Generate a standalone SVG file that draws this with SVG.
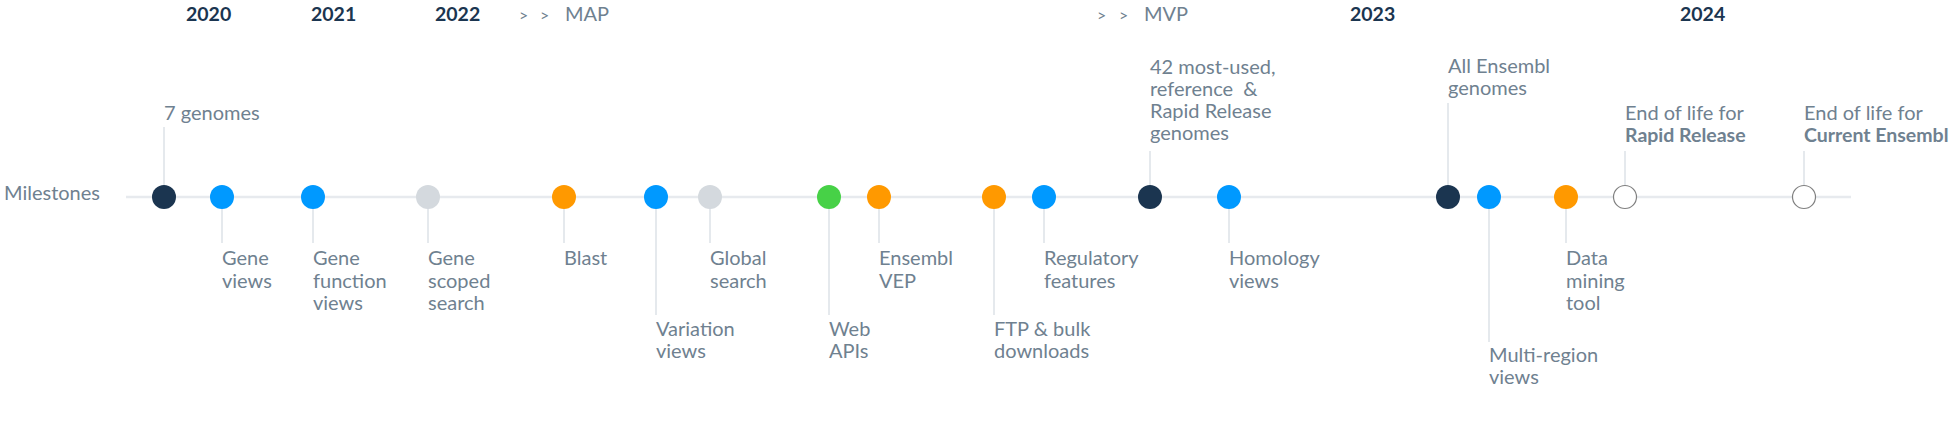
<svg xmlns="http://www.w3.org/2000/svg" width="1960" height="430" viewBox="0 0 1960 430">
<style>
  text { font-family: Lato, "Liberation Sans", sans-serif; }
  .yr { font-size: 19.5px; font-weight: 700; fill: #1b3550; }
  .ph { font-size: 20px; fill: #6f8190; }
  .lb { font-size: 20px; fill: #6f8190; white-space: pre; }
  .b { font-weight: 700; font-size: 19.5px; }
  .stem { stroke: #dde2e7; stroke-width: 1.5; fill: none; }
  .axis { stroke: #e7eaee; stroke-width: 2.5; }
  .navy { fill: #1b3550; }
  .blue { fill: #0099ff; }
  .grey { fill: #d4d9de; }
  .orange { fill: #ff9900; }
  .green { fill: #47d147; }
  .hollow { fill: #ffffff; stroke: #808080; stroke-width: 1.2; }
</style>
<rect width="1960" height="430" fill="#ffffff"/>

<g id="header">
  <text class="yr" x="186" y="20.5">2020</text>
  <text class="yr" x="311" y="20.5">2021</text>
  <text class="yr" x="435" y="20.5">2022</text>
  <text class="ph" x="519" y="20.5"><tspan font-size="16">&gt;</tspan><tspan font-size="16" x="540">&gt;</tspan><tspan x="565">MAP</tspan></text>
  <text class="ph" x="1097" y="20.5"><tspan font-size="16">&gt;</tspan><tspan font-size="16" x="1119">&gt;</tspan><tspan x="1144">MVP</tspan></text>
  <text class="yr" x="1350" y="20.5">2023</text>
  <text class="yr" x="1680" y="20.5">2024</text>
  <text class="ph" x="4" y="200">Milestones</text>
</g>

<g id="connectors">
  <line class="axis" x1="126" y1="197" x2="1851" y2="197"/>
  <line class="stem" x1="164" y1="127" x2="164" y2="186"/>
  <line class="stem" x1="1150" y1="151" x2="1150" y2="186"/>
  <line class="stem" x1="1448" y1="103" x2="1448" y2="186"/>
  <line class="stem" x1="1625" y1="151" x2="1625" y2="186"/>
  <line class="stem" x1="1804" y1="151" x2="1804" y2="186"/>
  <line class="stem" x1="222" y1="208" x2="222" y2="243"/>
  <line class="stem" x1="313" y1="208" x2="313" y2="243"/>
  <line class="stem" x1="428" y1="208" x2="428" y2="243"/>
  <line class="stem" x1="564" y1="208" x2="564" y2="243"/>
  <line class="stem" x1="656" y1="208" x2="656" y2="315"/>
  <line class="stem" x1="710" y1="208" x2="710" y2="243"/>
  <line class="stem" x1="829" y1="208" x2="829" y2="315"/>
  <line class="stem" x1="879" y1="208" x2="879" y2="243"/>
  <line class="stem" x1="994" y1="208" x2="994" y2="315"/>
  <line class="stem" x1="1044" y1="208" x2="1044" y2="243"/>
  <line class="stem" x1="1229" y1="208" x2="1229" y2="243"/>
  <line class="stem" x1="1489" y1="208" x2="1489" y2="342"/>
  <line class="stem" x1="1566" y1="208" x2="1566" y2="243"/>
</g>

<g id="m-7genomes">
  <circle class="navy" cx="164" cy="197" r="12"/>
  <text class="lb" x="164" y="119.5">7 genomes</text>
</g>
<g id="m-gene-views">
  <circle class="blue" cx="222" cy="197" r="12"/>
  <text class="lb" x="222" y="265"><tspan x="222">Gene</tspan><tspan x="222" dy="22.5">views</tspan></text>
</g>
<g id="m-gene-function">
  <circle class="blue" cx="313" cy="197" r="12"/>
  <text class="lb" x="313" y="265"><tspan x="313">Gene</tspan><tspan x="313" dy="22.5">function</tspan><tspan x="313" dy="22.5">views</tspan></text>
</g>
<g id="m-gene-scoped">
  <circle class="grey" cx="428" cy="197" r="12"/>
  <text class="lb" x="428" y="265"><tspan x="428">Gene</tspan><tspan x="428" dy="22.5">scoped</tspan><tspan x="428" dy="22.5">search</tspan></text>
</g>
<g id="m-blast">
  <circle class="orange" cx="564" cy="197" r="12"/>
  <text class="lb" x="564" y="265">Blast</text>
</g>
<g id="m-variation">
  <circle class="blue" cx="656" cy="197" r="12"/>
  <text class="lb" x="656" y="336"><tspan x="656">Variation</tspan><tspan x="656" dy="22">views</tspan></text>
</g>
<g id="m-global-search">
  <circle class="grey" cx="710" cy="197" r="12"/>
  <text class="lb" x="710" y="265"><tspan x="710">Global</tspan><tspan x="710" dy="22.5">search</tspan></text>
</g>
<g id="m-web-apis">
  <circle class="green" cx="829" cy="197" r="12"/>
  <text class="lb" x="829" y="336"><tspan x="829">Web</tspan><tspan x="829" dy="22">APIs</tspan></text>
</g>
<g id="m-vep">
  <circle class="orange" cx="879" cy="197" r="12"/>
  <text class="lb" x="879" y="265"><tspan x="879">Ensembl</tspan><tspan x="879" dy="22.5">VEP</tspan></text>
</g>
<g id="m-ftp">
  <circle class="orange" cx="994" cy="197" r="12"/>
  <text class="lb" x="994" y="336"><tspan x="994">FTP &amp; bulk</tspan><tspan x="994" dy="22">downloads</tspan></text>
</g>
<g id="m-regulatory">
  <circle class="blue" cx="1044" cy="197" r="12"/>
  <text class="lb" x="1044" y="265"><tspan x="1044">Regulatory</tspan><tspan x="1044" dy="22.5">features</tspan></text>
</g>
<g id="m-42genomes">
  <circle class="navy" cx="1150" cy="197" r="12"/>
  <text class="lb" x="1150" y="73.5"><tspan x="1150">42 most-used,</tspan><tspan x="1150" dy="22.3">reference  &amp;</tspan><tspan x="1150" dy="22.3">Rapid Release</tspan><tspan x="1150" dy="22.3">genomes</tspan></text>
</g>
<g id="m-homology">
  <circle class="blue" cx="1229" cy="197" r="12"/>
  <text class="lb" x="1229" y="265"><tspan x="1229">Homology</tspan><tspan x="1229" dy="22.5">views</tspan></text>
</g>
<g id="m-all-genomes">
  <circle class="navy" cx="1448" cy="197" r="12"/>
  <text class="lb" x="1448" y="73"><tspan x="1448">All Ensembl</tspan><tspan x="1448" dy="22.3">genomes</tspan></text>
</g>
<g id="m-multi-region">
  <circle class="blue" cx="1489" cy="197" r="12"/>
  <text class="lb" x="1489" y="362"><tspan x="1489">Multi-region</tspan><tspan x="1489" dy="21.5">views</tspan></text>
</g>
<g id="m-data-mining">
  <circle class="orange" cx="1566" cy="197" r="12"/>
  <text class="lb" x="1566" y="265"><tspan x="1566">Data</tspan><tspan x="1566" dy="22.5">mining</tspan><tspan x="1566" dy="22.5">tool</tspan></text>
</g>
<g id="m-eol-rapid">
  <circle class="hollow" cx="1625" cy="197" r="11.5"/>
  <text class="lb" x="1625" y="120"><tspan x="1625">End of life for</tspan><tspan x="1625" dy="22" class="b">Rapid Release</tspan></text>
</g>
<g id="m-eol-current">
  <circle class="hollow" cx="1804" cy="197" r="11.5"/>
  <text class="lb" x="1804" y="120"><tspan x="1804">End of life for</tspan><tspan x="1804" dy="22" class="b">Current Ensembl</tspan></text>
</g>
</svg>
